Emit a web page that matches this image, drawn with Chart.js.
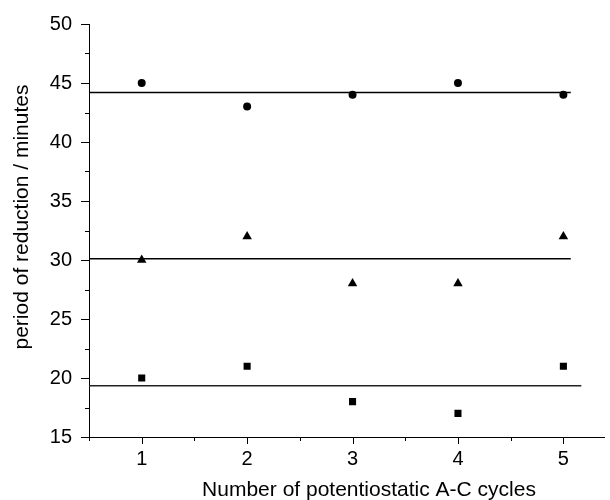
<!DOCTYPE html>
<html>
<head>
<meta charset="utf-8">
<script src="https://cdn.jsdelivr.net/npm/chart.js@4"></script>
<style>
html,body{margin:0;padding:0;background:#fff;}
#wrap{width:610px;height:500px;}
</style>
</head>
<body>
<div id="wrap"><canvas id="c" width="610" height="500"></canvas></div>
<script>
const cycles = [1, 2, 3, 4, 5];
const circleValues = [45, 43, 44, 45, 44];
const triangleValues = [30, 32, 28, 28, 32];
const squareValues = [20, 21, 18, 17, 21];
const meanCircle = 44.2;
const meanTriangle = 30.1;
const meanSquare = 19.35;
const meanCircleEnd = 5.07;
const meanTriangleEnd = 5.07;
const meanSquareEnd = 5.17;
const xTickLabels = ['1', '2', '3', '4', '5'];
const yTickLabels = ['15', '20', '25', '30', '35', '40', '45', '50'];
const xTitle = 'Number of potentiostatic A-C cycles';
const yTitle = 'period of reduction / minutes';

const FONT = '"Liberation Sans", Arial, sans-serif';
const pts = vals => cycles.map((c, i) => ({x: c, y: vals[i]}));
const meanLine = (v, end) => [{x: 0.5, y: v}, {x: end, y: v}];

const tickPlugin = {
  id: 'ticks',
  afterDraw(chart) {
    const ctx = chart.ctx;
    const xs = chart.scales.x, ys = chart.scales.y;
    ctx.save();
    ctx.strokeStyle = '#000';
    ctx.lineWidth = 1;
    for (let v = 15; v <= 50; v += 2.5) {
      const major = Math.abs(v % 5) < 1e-9;
      const py = Math.round(ys.getPixelForValue(v)) + 0.5;
      ctx.beginPath();
      ctx.moveTo(xs.left - (major ? 8 : 4), py);
      ctx.lineTo(xs.left, py);
      ctx.stroke();
    }
    for (let v = 0.5; v <= 5.5; v += 0.5) {
      if (v > xs.max) break;
      const major = Math.abs(v % 1) < 1e-9;
      const px = Math.round(xs.getPixelForValue(v)) + 0.5;
      ctx.beginPath();
      ctx.moveTo(px, ys.bottom);
      ctx.lineTo(px, ys.bottom + (major ? 7 : 4));
      ctx.stroke();
    }
    ctx.fillStyle = '#000';
    ctx.font = '21px ' + FONT;
    ctx.textAlign = 'center';
    ctx.textBaseline = 'middle';
    ctx.fillText(xTitle, 369, 490);
    ctx.save();
    ctx.translate(22, 217);
    ctx.rotate(-Math.PI / 2);
    ctx.fillText(yTitle, 0, 0);
    ctx.restore();
    ctx.restore();
  }
};

new Chart(document.getElementById('c'), {
  type: 'scatter',
  data: {
    datasets: [
      {data: pts(circleValues), pointStyle: 'circle', pointRadius: 4, backgroundColor: '#000', borderColor: '#000', borderWidth: 0},
      {data: pts(triangleValues), pointStyle: 'triangle', pointRadius: 5.5, backgroundColor: '#000', borderColor: '#000', borderWidth: 0},
      {data: pts(squareValues), pointStyle: 'rect', pointRadius: 5, backgroundColor: '#000', borderColor: '#000', borderWidth: 0},
      {type: 'line', data: meanLine(meanCircle, meanCircleEnd), borderColor: '#000', borderWidth: 1.5, pointRadius: 0, fill: false},
      {type: 'line', data: meanLine(meanTriangle, meanTriangleEnd), borderColor: '#000', borderWidth: 1.5, pointRadius: 0, fill: false},
      {type: 'line', data: meanLine(meanSquare, meanSquareEnd), borderColor: '#222', borderWidth: 1.5, pointRadius: 0, fill: false}
    ]
  },
  options: {
    responsive: false,
    animation: false,
    layout: {padding: {left: 0, right: 0, top: 24, bottom: 0}},
    plugins: {legend: {display: false}, tooltip: {enabled: false}},
    scales: {
      x: {
        type: 'linear', min: 0.5, max: 5.39,
        afterFit: s => { s.height = 63; s.paddingLeft = 0; s.paddingRight = 0; },
        grid: {display: false},
        border: {display: true, color: '#000', width: 1},
        ticks: {
          stepSize: 1, autoSkip: false, padding: 2,
          color: '#000', font: {family: FONT, size: 20},
          callback: v => { const i = cycles.indexOf(v); return i >= 0 ? xTickLabels[i] : ''; }
        },
        afterBuildTicks: s => { s.ticks = cycles.map(v => ({value: v})); }
      },
      y: {
        type: 'linear', min: 15, max: 50,
        afterFit: s => { s.width = 89; s.paddingTop = 0; s.paddingBottom = 0; },
        grid: {display: false},
        border: {display: true, color: '#000', width: 1},
        ticks: {
          stepSize: 5, padding: 9,
          color: '#000', font: {family: FONT, size: 20},
          callback: v => { const i = yTickLabels.indexOf(String(v)); return i >= 0 ? yTickLabels[i] : ''; }
        }
      }
    }
  },
  plugins: [tickPlugin]
});
</script>
</body>
</html>
